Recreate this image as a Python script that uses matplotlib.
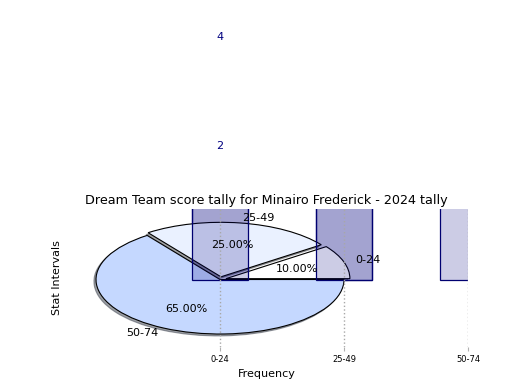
import numpy as np
import matplotlib.pyplot as plt

# score intervals and how often each came up
intervals = ['0-24', '25-49', '50-74']
freq = [2, 5, 13]
overlay = [4, 2]

# pie of the same tally
pie_labels = ['0-24', '25-49', '50-74']
pie_share = [10, 25, 65]
pie_colors = ['#ffffff', '#eaf1ff', '#c5d8ff']
explode = [0.05, 0.05, 0]

fig = plt.figure(figsize=(5.2, 3.9), dpi=100)
ax = fig.add_axes([0.125, 0.11, 0.775, 0.355])

x = np.arange(len(intervals))
bar_face = (0, 0, 0.5, 0.2)

# first layer of bars sits under the pie
ax.bar(x, freq, width=0.45, color=bar_face, edgecolor='#000070', linewidth=0.9)

ax.pie(pie_share, labels=pie_labels, colors=pie_colors, explode=explode,
       autopct='%1.2f%%', shadow={'ox': -0.012, 'oy': -0.025}, startangle=0, frame=True,
       wedgeprops={'edgecolor': 'black', 'linewidth': 0.8},
       textprops={'fontsize': 8})

# second layer goes over it
ax.bar(x[:2], overlay, width=0.45, color=bar_face, edgecolor='#000070', linewidth=0.9)
for v in overlay:
    ax.text(x[0], v + 0.45, str(v), color='navy', ha='center', va='center', fontsize=8)

ax.set_aspect('auto')
ax.set_xlim(-1.25, 2)
ax.set_ylim(-1.24, 1.30)
ax.set_frame_on(False)
ax.set_xticks(x, intervals)
ax.set_yticks([])
ax.tick_params(axis='x', length=3, color='#b0b0b0', labelsize=6, pad=2.5)
ax.set_axisbelow(False)
ax.grid(axis='x', linestyle=':', color='#a8a8a8', linewidth=1)

ax.set_title('Dream Team score tally for Minairo Frederick - 2024 tally', fontsize=9.2, pad=3)
ax.set_xlabel('Frequency', fontsize=8)
ax.set_ylabel('Stat Intervals', fontsize=8, labelpad=2)

fig.savefig('out.png', dpi=100)
